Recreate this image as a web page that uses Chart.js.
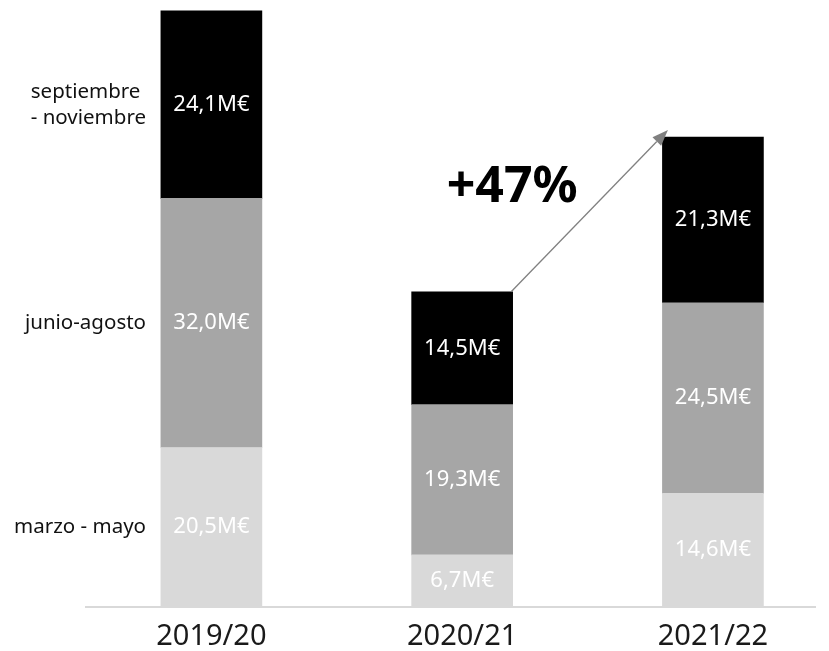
<!DOCTYPE html>
<html>
<head>
<title>Ventas por temporada</title>
<script src="https://cdn.jsdelivr.net/npm/chart.js@4"></script>
<style>
  html, body { margin: 0; padding: 0; background: #fff; }
  #wrap { width: 829px; height: 651px; }
</style>
</head>
<body>
<div id="wrap"><canvas id="myChart" width="829" height="651"></canvas></div>

<script>
// data (millions of euro)
var seasons = ['2019/20', '2020/21', '2021/22'];
var periods = ['marzo - mayo', 'junio-agosto', 'septiembre\n- noviembre'];
var marzoMayo = [20.5, 6.7, 14.6];
var junioAgosto = [32.0, 19.3, 24.5];
var septNov = [24.1, 14.5, 21.3];
var growthLabel = '+47%';

var colors = ['#d9d9d9', '#a6a6a6', '#000000'];
var FONT = '"Noto Sans", sans-serif';

function fmt(v) {
    return v.toFixed(1).replace('.', ',') + 'M€';
}

function pts(arr) {
    return arr.map(function (v, i) { return { x: i, y: v }; });
}

// white value labels inside every segment
var segLabels = {
    id: 'segLabels',
    afterDatasetsDraw: function (chart) {
        var ctx = chart.ctx;
        ctx.save();
        ctx.fillStyle = '#ffffff';
        ctx.font = '22px ' + FONT;
        ctx.textAlign = 'center';
        ctx.textBaseline = 'middle';
        chart.data.datasets.forEach(function (ds, di) {
            var meta = chart.getDatasetMeta(di);
            meta.data.forEach(function (bar, i) {
                ctx.fillText(fmt(ds.data[i].y), bar.x, (bar.y + bar.base) / 2);
            });
        });
        ctx.restore();
    }
};

// period names beside the first column, plus the growth arrow
var notes = {
    id: 'notes',
    afterDraw: function (chart) {
        var ctx = chart.ctx;
        var xs = chart.scales.x, ys = chart.scales.y;
        ctx.save();

        // period labels at the middle of each 2019/20 segment
        ctx.fillStyle = '#111111';
        ctx.font = '20.5px ' + FONT;
        ctx.textBaseline = 'middle';
        var cum = 0;
        var firstCol = [marzoMayo[0], junioAgosto[0], septNov[0]];
        periods.forEach(function (name, k) {
            var mid = ys.getPixelForValue(cum + firstCol[k] / 2);
            cum += firstCol[k];
            var lines = name.split('\n');
            var right = 146;
            var w = Math.max.apply(null, lines.map(function (l) { return ctx.measureText(l).width; }));
            ctx.textAlign = lines.length > 1 ? 'left' : 'right';
            lines.forEach(function (l, j) {
                var y = mid + (j - (lines.length - 1) / 2) * 26;
                ctx.fillText(l, lines.length > 1 ? right - w : right, y);
            });
        });

        // arrow from the 2020/21 top to the 2021/22 top
        var top1 = septNov[1] + junioAgosto[1] + marzoMayo[1];
        var top2 = septNov[2] + junioAgosto[2] + marzoMayo[2];
        var x0 = xs.getPixelForValue(1) + 49, y0 = ys.getPixelForValue(top1);
        var x1 = xs.getPixelForValue(2) - 45, y1 = ys.getPixelForValue(top2) - 7;
        ctx.strokeStyle = '#808080';
        ctx.fillStyle = '#808080';
        ctx.lineWidth = 1.3;
        var ang = Math.atan2(y1 - y0, x1 - x0);
        var hl = 16, hw = 6;
        ctx.beginPath();
        ctx.moveTo(x0, y0);
        ctx.lineTo(x1 - Math.cos(ang) * hl, y1 - Math.sin(ang) * hl);
        ctx.stroke();
        ctx.beginPath();
        ctx.moveTo(x1, y1);
        ctx.lineTo(x1 - Math.cos(ang) * hl - Math.sin(ang) * hw, y1 - Math.sin(ang) * hl + Math.cos(ang) * hw);
        ctx.lineTo(x1 - Math.cos(ang) * hl + Math.sin(ang) * hw, y1 - Math.sin(ang) * hl - Math.cos(ang) * hw);
        ctx.closePath();
        ctx.fill();

        // growth text
        ctx.fillStyle = '#000000';
        ctx.font = 'bold 50px ' + FONT;
        ctx.textAlign = 'center';
        ctx.fillText(growthLabel, xs.getPixelForValue(1) + 50, 188);
        ctx.restore();
    }
};

new Chart(document.getElementById('myChart'), {
    type: 'bar',
    data: {
        datasets: [
            { label: periods[0], data: pts(marzoMayo), backgroundColor: colors[0] },
            { label: periods[1], data: pts(junioAgosto), backgroundColor: colors[1] },
            { label: periods[2], data: pts(septNov), backgroundColor: colors[2] }
        ]
    },
    options: {
        responsive: false,
        animation: false,
        barThickness: 101,
        layout: { padding: { left: 86, right: 14, top: 0, bottom: 0 } },
        plugins: { legend: { display: false }, tooltip: { enabled: false } },
        scales: {
            x: {
                type: 'linear',
                stacked: true,
                offset: false,
                min: -0.5,
                max: 2.407,
                grid: { display: false, drawTicks: false },
                border: { color: '#d9d9d9', width: 2 },
                afterBuildTicks: function (s) {
                    s.ticks = seasons.map(function (_, i) { return { value: i }; });
                },
                afterFit: function (s) { s.height = 44; },
                ticks: {
                    padding: 12,
                    color: '#1a1a1a',
                    font: { family: FONT, size: 29 },
                    callback: function (v) { return seasons[v]; }
                }
            },
            y: {
                stacked: true,
                display: false,
                min: 0,
                max: 78
            }
        }
    },
    plugins: [segLabels, notes]
});
</script>
</body>
</html>
